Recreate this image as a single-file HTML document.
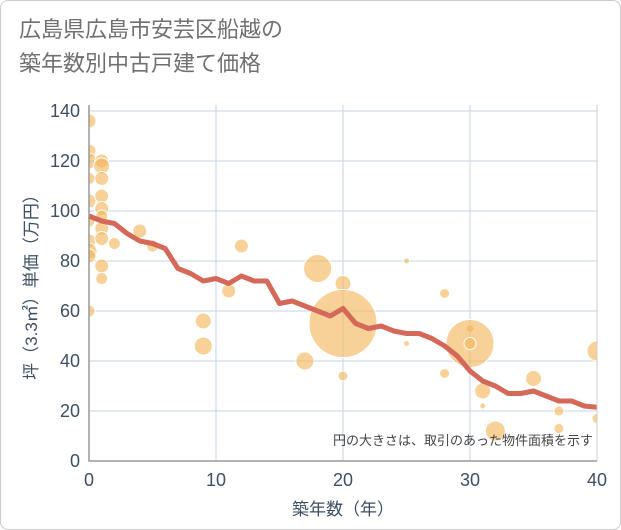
<!DOCTYPE html>
<html><head><meta charset="utf-8"><style>
body{margin:0;background:#fff;}
#wrap{position:relative;width:619px;height:528px;border:1px solid #ccc;border-radius:8px;background:#fff;overflow:hidden;font-family:"Liberation Sans","Noto Sans CJK JP",sans-serif;}
h1{position:absolute;left:18px;top:12px;margin:0;font-size:22px;font-weight:normal;color:#707070;line-height:34px;}
</style></head><body>
<div id="wrap">
<h1>広島県広島市安芸区船越の<br>築年数別中古戸建て価格</h1>
<svg id="chart" width="621" height="530" style="position:absolute;left:0;top:0"></svg>
</div>
<script>
const lineYears=[0,1,2,3,4,5,6,7,8,9,10,11,12,13,14,15,16,17,18,19,20,21,22,23,24,25,26,27,28,29,30,31,32,33,34,35,36,37,38,39,40];
const lineValues=[98,96,95,91,88,87,85,77,75,72,73,71,74,72,72,63,64,62,60,58,61,55,53,54,52,51,51,49,46,42,36,32,30,27,27,28,26,24,24,22,21.5];
const bubbleX=[0,0,0,0,0,0,0,0,0,0,1,1,1,1,1,1,1,1,1,1,2,4,5,9,9,11,12,17,18,20,20,20,25,25,28,28,30,30,30,31,31,32,35,37,37,40,40];
const bubbleY=[136,124,120,113,104,96,88,84,82,60,120,118,113,106,101,98,93,89,78,73,87,92,86,56,46,68,86,40,77,71,55,34,80,47,67,35,53,47,47,28,22,12,33,20,13,44,17];
const bubbleR=[7,7,8,6,7,6,7,8,7,6,7,8,7,7,7,6,7,7,7,6,6,7,6,8,9,7,7,9,14,8,34,5,3,3,5,5,4,24,6,8,3,10,8,5,5,10,5];
const xTicks=[0,10,20,30,40];
const yTicks=[0,20,40,60,80,100,120,140];
const NS="http://www.w3.org/2000/svg";
const svg=document.getElementById('chart');
const L=88,R=596,T=104,B=460;
const sx=v=>L+(v/40)*(R-L);
const sy=v=>B-(v/140)*(B-110);
function mk(tag,attrs,parent){const e=document.createElementNS(NS,tag);for(const k in attrs)e.setAttribute(k,attrs[k]);(parent||svg).appendChild(e);return e;}
const defs=mk('clipPath',{id:'clip'});mk('rect',{x:L,y:T,width:R-L,height:B-T},defs);
yTicks.forEach(t=>{const g=mk('line',{x1:L,x2:R,y1:sy(t),y2:sy(t),stroke:'#c5d3e2','stroke-width':1});

const tx=mk('text',{x:L-9,y:sy(t)+6,'text-anchor':'end','font-size':18,fill:'#3d4f63'});tx.textContent=t;
});
xTicks.forEach(t=>{const g=mk('line',{x1:sx(t),x2:sx(t),y1:T,y2:B,stroke:'#c5d3e2','stroke-width':1});

const tx=mk('text',{x:sx(t),y:B+25,'text-anchor':'middle','font-size':18,fill:'#3d4f63'});tx.textContent=t;
});
const bg=mk('g',{'clip-path':'url(#clip)'});

bubbleX.forEach((x,i)=>{const c=mk('circle',{cx:sx(x),cy:sy(bubbleY[i]),r:bubbleR[i],fill:'#f3b95f','fill-opacity':0.65,stroke:'#fff','stroke-width':1},bg);
});
const p=mk('polyline',{points:lineYears.map((x,i)=>sx(x)+','+sy(lineValues[i])).join(' '),fill:'none',stroke:'#d4695a','stroke-width':5,'stroke-linejoin':'round'});

const ax=mk('path',{d:`M${L},${T}V${B}H${R}`,fill:'none',stroke:'#999','stroke-width':1.5});

const rt=mk('line',{x1:R,x2:R,y1:T,y2:B,stroke:'#ccc'});
const note=mk('text',{x:592,y:444,'text-anchor':'end','font-size':13,fill:'#444'});note.textContent='円の大きさは、取引のあった物件面積を示す';

const xt=mk('text',{x:342,y:514,'text-anchor':'middle','font-size':17,fill:'#3d4f63'});xt.textContent='築年数（年）';

const yt=mk('text',{x:0,y:0,'text-anchor':'middle','font-size':17,fill:'#3d4f63',transform:'translate(36,282) rotate(-90)'});yt.textContent='坪（3.3㎡）単価（万円）';

</script>
</body></html>
